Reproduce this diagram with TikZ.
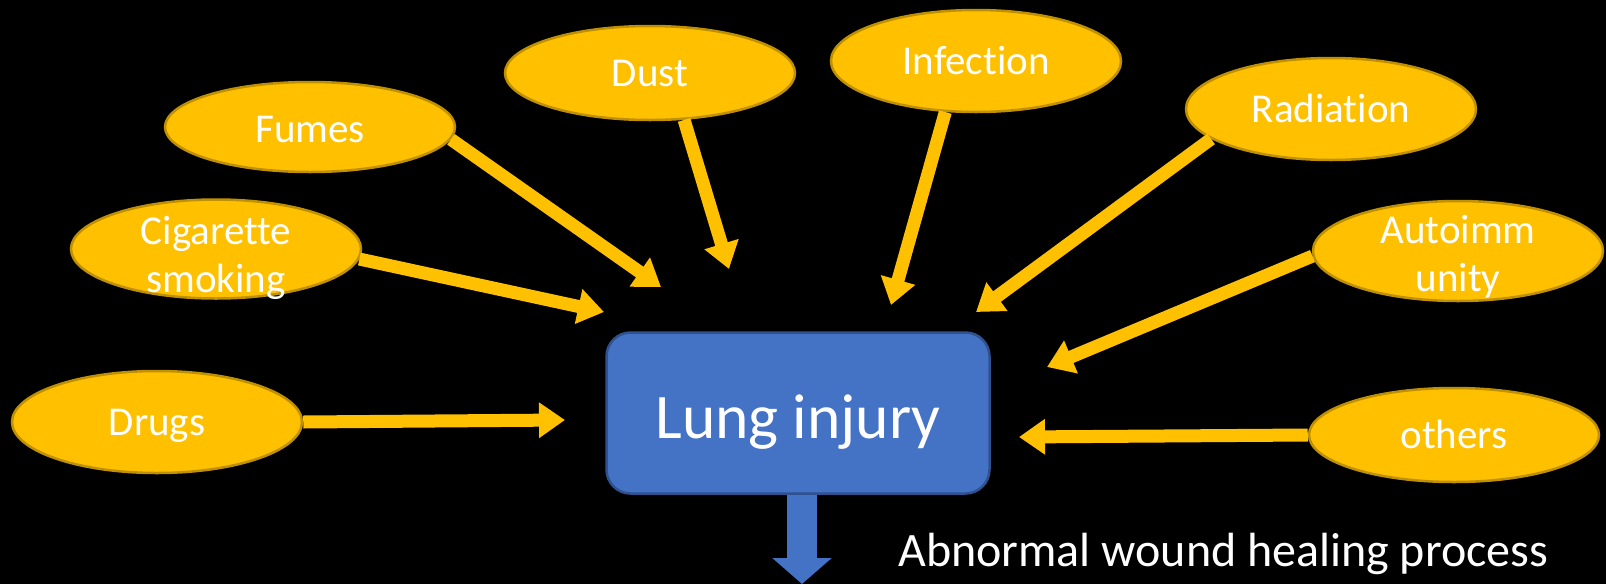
\documentclass[tikz,border=0pt]{standalone}
\usepackage{fontspec}
\setmainfont{Carlito}[Ligatures=NoCommon]
\usetikzlibrary{shapes.geometric,arrows.meta}
\definecolor{gold}{HTML}{FFC000}
\definecolor{golddark}{HTML}{BF9000}
\definecolor{boxblue}{HTML}{4472C4}
\definecolor{boxedge}{HTML}{2F528F}
\tikzset{
  ell/.style={ellipse, draw=golddark, fill=gold, line width=2.5pt, inner sep=0pt,
    minimum width=290pt, minimum height=#1, text=white,
    font=\fontsize{41}{48}\selectfont, text height=26pt, text depth=0pt},
  ell/.default=98pt,
  yarrow/.style={draw=gold, line width=13pt, -{Triangle[width=34pt,length=26pt]}},
  barrow/.style={draw=boxblue, line width=30pt, -{Triangle[width=58pt,length=26pt]}},
  lungbox/.style={rectangle, rounded corners=24pt, draw=boxedge, fill=boxblue,
    line width=2.5pt, minimum width=383pt, minimum height=161pt, text=white,
    font=\fontsize{63.5}{70}\selectfont, text height=50pt, text depth=0pt},
}
\newcommand{\twolines}[3]{\smash{\raisebox{#1}{\renewcommand{\arraystretch}{1}\begin{tabular}{@{}c@{}}#2\\#3\end{tabular}}}}
\begin{document}
\begin{tikzpicture}[x=1pt,y=-1pt]
\useasboundingbox (0,0) rectangle (1606,584);
\fill[black] (0,0) rectangle (1606,584);

% ellipses
\node[ell=90pt, text height=30pt] (fumes) at (310,127) {Fumes};
\node[ell=94pt] (dust) at (650,73) {Dust};
\node[ell=102pt] (inf) at (976,61) {Infection};
\node[ell=102pt] (rad) at (1331,109) {Radiation};
\node[ell=99pt] (cig) at (216,249) {\twolines{-3pt}{Cigarette}{smoking}};
\node[ell=100pt] (auto) at (1458,251) {\twolines{0pt}{Autoimm}{unity}};
\node[ell=102pt] (drugs) at (157,422) {Drugs};
\node[ell=94pt] (oth) at (1454,435) {others};

% central box
\node[lungbox] (lung) at (798,413) {Lung injury};

% end points
\coordinate (eDrugs) at (565,420);
\coordinate (eCig) at (604,312);
\coordinate (eFumes) at (661,287);
\coordinate (eDust) at (729,269);
\coordinate (eInf) at (891,305);
\coordinate (eRad) at (976,312);
\coordinate (eAuto) at (1047,367);
\coordinate (eOth) at (1019,437);
\coordinate (downtip) at (802,584);

% arrows
\draw[yarrow] (drugs.east) -- (eDrugs);
\draw[yarrow] (cig.-4) -- (eCig);
\draw[yarrow] (fumes.-5) -- (eFumes);
\draw[yarrow] (dust.-54) -- (eDust);
\draw[yarrow] (inf.-121) -- (eInf);
\draw[yarrow] (rad.194) -- (eRad);
\draw[yarrow] (auto.182) -- (eAuto);
\draw[yarrow] (oth.west) -- (eOth);

\draw[barrow] ([xshift=4pt]lung.south) -- (downtip);

\node[anchor=base west, text=white, font=\fontsize{48}{56}\selectfont, inner sep=0pt] (abn) at (898,566) {Abnormal wound healing process};
\end{tikzpicture}
\end{document}
